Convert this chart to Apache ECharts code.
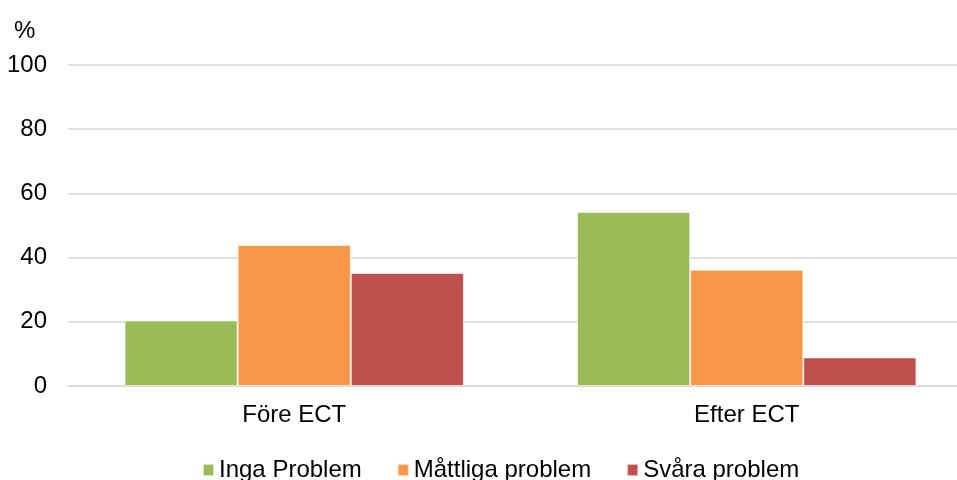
<!DOCTYPE html>
<html>
<head>
<meta charset="utf-8">
<script src="https://cdn.jsdelivr.net/npm/echarts@6/dist/echarts.min.js"></script>
<style>
  html, body { margin: 0; padding: 0; background: #fff; overflow: hidden; }
  /* the original chart is cut off at the right edge, so the drawing area runs past the window */
  #chart { width: 973px; height: 480px; }
</style>
</head>
<body>
<div id="chart"></div>
<script>
const categories = ["Före ECT", "Efter ECT"];
const seriesNames = ["Inga Problem", "Måttliga problem", "Svåra problem"];
const ingaProblem = [20.4, 54.2];
const mattligaProblem = [43.9, 36.2];
const svaraProblem = [35.2, 8.9];
const yTicks = [0, 20, 40, 60, 80, 100];

const color = ["#9BBB59", "#F79646", "#C0504D"];
const font = "Liberation Sans, Arial, sans-serif";

let chart = echarts.init(document.getElementById("chart"));

const commonBar = (name, data) => ({
  name,
  type: "bar",
  data,
  barGap: "0%",
  barCategoryGap: "25%",
  itemStyle: { borderColor: "rgba(255,255,255,0.6)", borderWidth: 1 },
});

const option = {
  animation: false,
  color,
  title: {
    text: "%",
    left: 14,
    top: 19,
    padding: 0,
    textStyle: { fontFamily: font, fontSize: 24, fontWeight: "normal", color: "#000" },
  },
  legend: {
    left: 197,
    top: 453,
    itemWidth: 11,
    itemHeight: 12,
    itemGap: 35,
    icon: "rect",
    textStyle: { fontFamily: font, fontSize: 24, color: "#000" },
    data: seriesNames,
  },
  grid: { left: 68, top: 65, right: 0, bottom: 94, containLabel: false },
  xAxis: {
    type: "category",
    data: categories,
    axisLine: { show: true, lineStyle: { color: "#d9d9d9", width: 1.5 } },
    axisTick: { show: false },
    axisLabel: { fontFamily: font, fontSize: 24, color: "#000", margin: 17 },
  },
  yAxis: {
    type: "value",
    min: yTicks[0],
    max: yTicks[yTicks.length - 1],
    interval: 20,
    axisLine: { show: false },
    axisTick: { show: false },
    axisLabel: { fontFamily: font, fontSize: 24, color: "#000", margin: 21 },
    splitLine: { show: true, lineStyle: { color: "#d9d9d9", width: 1.5 } },
  },
  series: [
    commonBar(seriesNames[0], ingaProblem),
    commonBar(seriesNames[1], mattligaProblem),
    commonBar(seriesNames[2], svaraProblem),
  ],
};

chart.setOption(option);
</script>
</body>
</html>
